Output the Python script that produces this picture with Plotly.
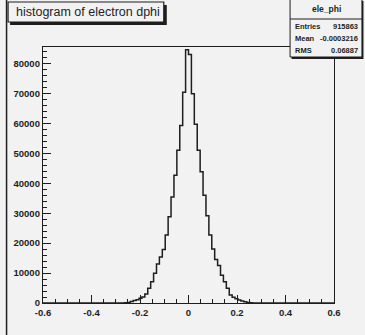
import numpy as np
import plotly.graph_objects as go

# Histogram of electron dphi: 100 bins on [-0.6, 0.6]
x_min, x_max, n_bins = -0.6, 0.6, 100
counts = (
    [0] * 28
    + [100, 200, 500, 800, 1100, 1600, 2000, 3000, 4900, 7100, 9900,
       13000, 15400, 17900, 22700, 28800, 35400, 42700, 51000, 59300,
       70400, 84600]
    + [83000, 69900, 59700, 51000, 43800, 36000, 29100, 22700, 18000,
       14500, 12500, 9300, 7100, 4900, 2700, 1900, 1400, 1000, 700, 400,
       200, 100]
    + [0] * 28
)

x_tick_vals = [-0.6, -0.4, -0.2, 0, 0.2, 0.4, 0.6]
x_tick_text = ["-0.6", "-0.4", "-0.2", "0", "0.2", "0.4", "0.6"]
y_tick_vals = [0, 10000, 20000, 30000, 40000, 50000, 60000, 70000, 80000]
y_tick_text = [str(v) for v in y_tick_vals]
y_top = 85500

title_text = "histogram of electron dphi"
stats_name = "ele_phi"
stats_rows = [("Entries", "915863"), ("Mean", "-0.0003216"), ("RMS", "0.06887")]

# canvas geometry (pixels)
FIG_W, FIG_H = 365, 335
L, R, T, B = 43, 30.5, 47, 32
PW, PH = FIG_W - L - R, FIG_H - T - B


def px(x):
    return (x - L) / PW


def py(y):
    return 1 - (y - T) / PH


edges = np.linspace(x_min, x_max, n_bins + 1)
step_y = list(counts) + [counts[-1]]

BG = "#f2f2f2"
INK = "#1e1e1e"
SANS = "Liberation Sans, Arial, sans-serif"

fig = go.Figure()
fig.add_trace(go.Scatter(
    x=edges, y=step_y, mode="lines",
    line=dict(shape="hv", color=INK, width=1.5),
    hoverinfo="skip", showlegend=False,
))

tick_font = dict(family=SANS, size=9.5, color=INK, weight="bold")

fig.update_xaxes(
    range=[x_min, x_max], tickvals=x_tick_vals, ticktext=x_tick_text,
    ticks="inside", ticklen=8, tickwidth=1, tickcolor=INK,
    minor=dict(ticks="inside", ticklen=4, dtick=0.05, tick0=0, tickcolor=INK),
    showline=True, linecolor=INK, linewidth=1.3, mirror=True,
    showgrid=False, zeroline=False, tickfont=tick_font,
)
fig.update_yaxes(
    range=[0, y_top], tickvals=y_tick_vals, ticktext=y_tick_text,
    ticks="inside", ticklen=8, tickwidth=1, tickcolor=INK,
    minor=dict(ticks="inside", ticklen=4, dtick=2000, tick0=0, tickcolor=INK),
    showline=True, linecolor=INK, linewidth=1.3, mirror=True,
    showgrid=False, zeroline=False, tickfont=tick_font,
)

shapes = []
annotations = []

# pad border on the left
shapes.append(dict(type="line", xref="paper", yref="paper",
                   x0=px(6.5), x1=px(6.5), y0=py(0), y1=py(FIG_H),
                   line=dict(color=INK, width=1.5)))

# title box with drop shadow
shapes.append(dict(type="rect", xref="paper", yref="paper",
                   x0=px(10), x1=px(167), y0=py(5), y1=py(25),
                   fillcolor=INK, line=dict(width=0), layer="above"))
shapes.append(dict(type="rect", xref="paper", yref="paper",
                   x0=px(8), x1=px(164), y0=py(2), y1=py(22),
                   fillcolor=BG, line=dict(color=INK, width=1.2), layer="above"))
annotations.append(dict(text=title_text, xref="paper", yref="paper",
                        x=px(14), y=py(12), xanchor="left", yanchor="middle",
                        showarrow=False,
                        font=dict(family=SANS, size=12.5, color=INK)))

# statistics box with drop shadow
shapes.append(dict(type="rect", xref="paper", yref="paper",
                   x0=px(292), x1=px(364), y0=py(1), y1=py(59),
                   fillcolor=INK, line=dict(width=0), layer="above"))
shapes.append(dict(type="rect", xref="paper", yref="paper",
                   x0=px(290.5), x1=px(362.5), y0=py(-1), y1=py(57),
                   fillcolor=BG, line=dict(color=INK, width=1), layer="above"))
shapes.append(dict(type="line", xref="paper", yref="paper",
                   x0=px(290.5), x1=px(362.5), y0=py(19), y1=py(19),
                   line=dict(color=INK, width=1), layer="above"))
annotations.append(dict(text=stats_name, xref="paper", yref="paper",
                        x=px(326.5), y=py(9), xanchor="center", yanchor="middle",
                        showarrow=False,
                        font=dict(family=SANS, size=8.5,
                                  color=INK, weight="bold")))
for k, (lab, val) in enumerate(stats_rows):
    yy = py(26 + 12 * k)
    annotations.append(dict(text=lab, xref="paper", yref="paper",
                            x=px(293), y=yy, xanchor="left", yanchor="middle",
                            showarrow=False,
                            font=dict(family=SANS, size=7.5,
                                      color=INK, weight="bold")))
    annotations.append(dict(text=val, xref="paper", yref="paper",
                            x=px(361), y=yy, xanchor="right", yanchor="middle",
                            showarrow=False,
                            font=dict(family=SANS, size=7.5,
                                      color=INK, weight="bold")))

fig.update_layout(
    width=FIG_W, height=FIG_H,
    margin=dict(l=L, r=R, t=T, b=B, pad=0),
    paper_bgcolor=BG, plot_bgcolor=BG,
    shapes=shapes, annotations=annotations,
    showlegend=False,
)

fig.write_html("out.html")
